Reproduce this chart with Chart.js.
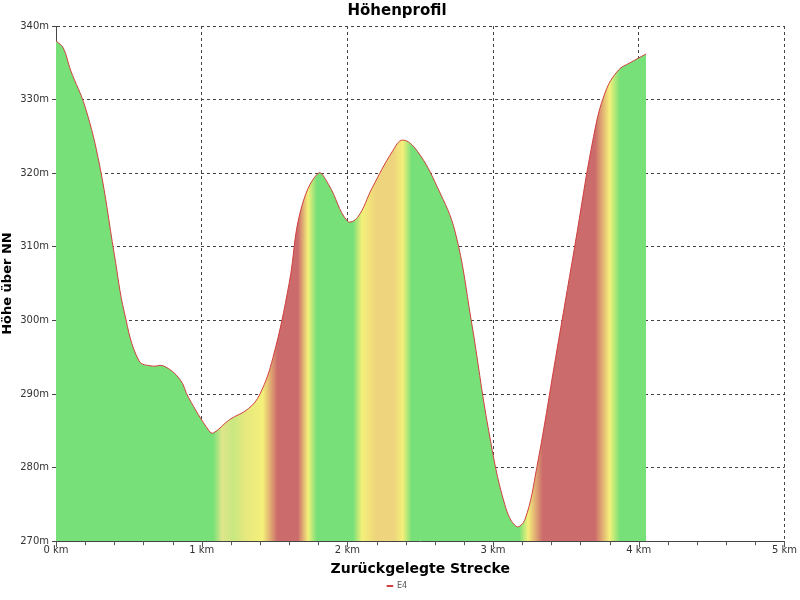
<!DOCTYPE html>
<html lang="de">
<head>
<meta charset="UTF-8">
<title>Höhenprofil</title>
<script src="https://cdn.jsdelivr.net/npm/chart.js"></script>
<style>body{margin:0;background:#fff}</style>
</head>
<body>
<canvas id="chart" width="800" height="600"></canvas>
<script>
// Strecke (km) und Höhe (m)
const distKm = [0, 0.05, 0.1, 0.2, 0.3, 0.4, 0.47, 0.57, 0.66, 0.74, 0.85, 0.91, 1.05, 1.08, 1.19, 1.32, 1.4, 1.49, 1.6, 1.68, 1.8, 1.87, 2.0, 2.07, 2.17, 2.31, 2.38, 2.48, 2.62, 2.74, 2.85, 2.97, 3.08, 3.16, 3.22, 3.3, 3.43, 3.56, 3.69, 3.77, 3.86, 3.94, 4.05];
const heightM = [338, 337, 334, 329, 321, 309, 301, 294.5, 293.8, 293.8, 292, 289.5, 285, 284.7, 286.5, 288, 290, 295, 305, 315, 320, 318.5, 313.5, 314, 318, 323, 324.5, 323, 318, 312, 300, 285, 275, 272, 273, 280, 295, 310, 325, 331, 334, 335, 336.2];
const yTicks = [270, 280, 290, 300, 310, 320, 330, 340];
// Steigungsfarben entlang der Strecke (km, Farbe)
const slopeZones = [
  [0, '#78e078'], [1.08, '#78e078'], [1.14, '#dfe58a'], [1.22, '#c8e880'], [1.3, '#e6e87e'], [1.42, '#f4f07a'],
  [1.52, '#cc6b6b'], [1.66, '#cc6b6b'], [1.73, '#f4f07a'], [1.79, '#78e078'],
  [2.04, '#78e078'], [2.1, '#f4f07a'], [2.2, '#eed47c'], [2.32, '#eed47c'], [2.38, '#f4f07a'], [2.44, '#78e078'],
  [3.18, '#78e078'], [3.24, '#f4f07a'], [3.34, '#cc6b6b'], [3.7, '#cc6b6b'], [3.8, '#f4f07a'], [3.87, '#78e078'], [4.05, '#78e078']
];

function fillGradient(ctx) {
  const chart = ctx.chart;
  const area = chart.chartArea;
  if (!area) return '#78e078';
  const x = chart.scales.x;
  const g = chart.ctx.createLinearGradient(area.left, 0, area.right, 0);
  const w = area.right - area.left;
  slopeZones.forEach(([km, c]) => {
    g.addColorStop(Math.min(1, Math.max(0, (x.getPixelForValue(km) - area.left) / w)), c);
  });
  g.addColorStop(1, '#78e078');
  return g;
}

const minorTicks = {
  id: 'minorTicks',
  afterDraw(chart) {
    const { ctx, chartArea, scales: { x } } = chart;
    ctx.save();
    ctx.strokeStyle = '#555';
    ctx.lineWidth = 1;
    ctx.beginPath();
    for (let v = 0; v <= 5.001; v += 0.2) {
      const px = Math.round(x.getPixelForValue(v)) + 0.5;
      const major = Math.abs(v - Math.round(v)) < 0.01;
      ctx.moveTo(px, chartArea.bottom);
      ctx.lineTo(px, chartArea.bottom + (major ? 6 : 4));
    }
    ctx.stroke();
    ctx.restore();
  }
};

new Chart(document.getElementById('chart'), {
  type: 'line',
  data: {
    datasets: [{
      label: 'E4',
      data: distKm.map((d, i) => ({ x: d, y: heightM[i] })),
      borderColor: '#d04040',
      borderWidth: 1,
      backgroundColor: fillGradient,
      fill: 'start',
      tension: 0.4,
      pointRadius: 0
    }]
  },
  options: {
    responsive: false,
    animation: false,
    layout: { padding: { left: 0, right: 6, top: 0, bottom: 0 } },
    scales: {
      x: {
        type: 'linear', min: 0, max: 5,
        afterBuildTicks: s => { s.ticks = [0, 1, 2, 3, 4, 5].map(v => ({ value: v })); },
        ticks: { callback: v => v + ' km', color: '#333', font: { family: 'DejaVu Sans', size: 10 }, maxRotation: 0 },
        grid: { color: '#444', tickLength: 0, drawTicks: false },
        border: { dash: [3, 3], color: '#444' },
        title: { display: true, text: 'Zurückgelegte Strecke', color: '#000', font: { family: 'DejaVu Sans', size: 14, weight: 'bold' }, padding: { top: 2, bottom: 0 } }
      },
      y: {
        min: 270, max: 340,
        afterBuildTicks: s => { s.ticks = yTicks.map(v => ({ value: v })); },
        afterFit: s => { s.width = 56; },
        ticks: { callback: v => v + 'm', color: '#333', font: { family: 'DejaVu Sans', size: 10 } },
        grid: { color: '#444', tickLength: 4 },
        border: { dash: [3, 3], color: '#444' },
        title: { display: true, text: 'Höhe über NN', color: '#000', font: { family: 'DejaVu Sans', size: 13, weight: '600' }, padding: 0 }
      }
    },
    plugins: {
      title: { display: true, text: 'Höhenprofil', color: '#000', font: { family: 'DejaVu Sans', size: 15, weight: 'bold' }, padding: { top: 2, bottom: 6 } },
      legend: {
        position: 'bottom',
        labels: { boxWidth: 6, boxHeight: 1, color: '#555', font: { family: 'DejaVu Sans', size: 8 }, padding: 4 }
      }
    }
  },
  plugins: [minorTicks]
});
</script>
</body>
</html>
